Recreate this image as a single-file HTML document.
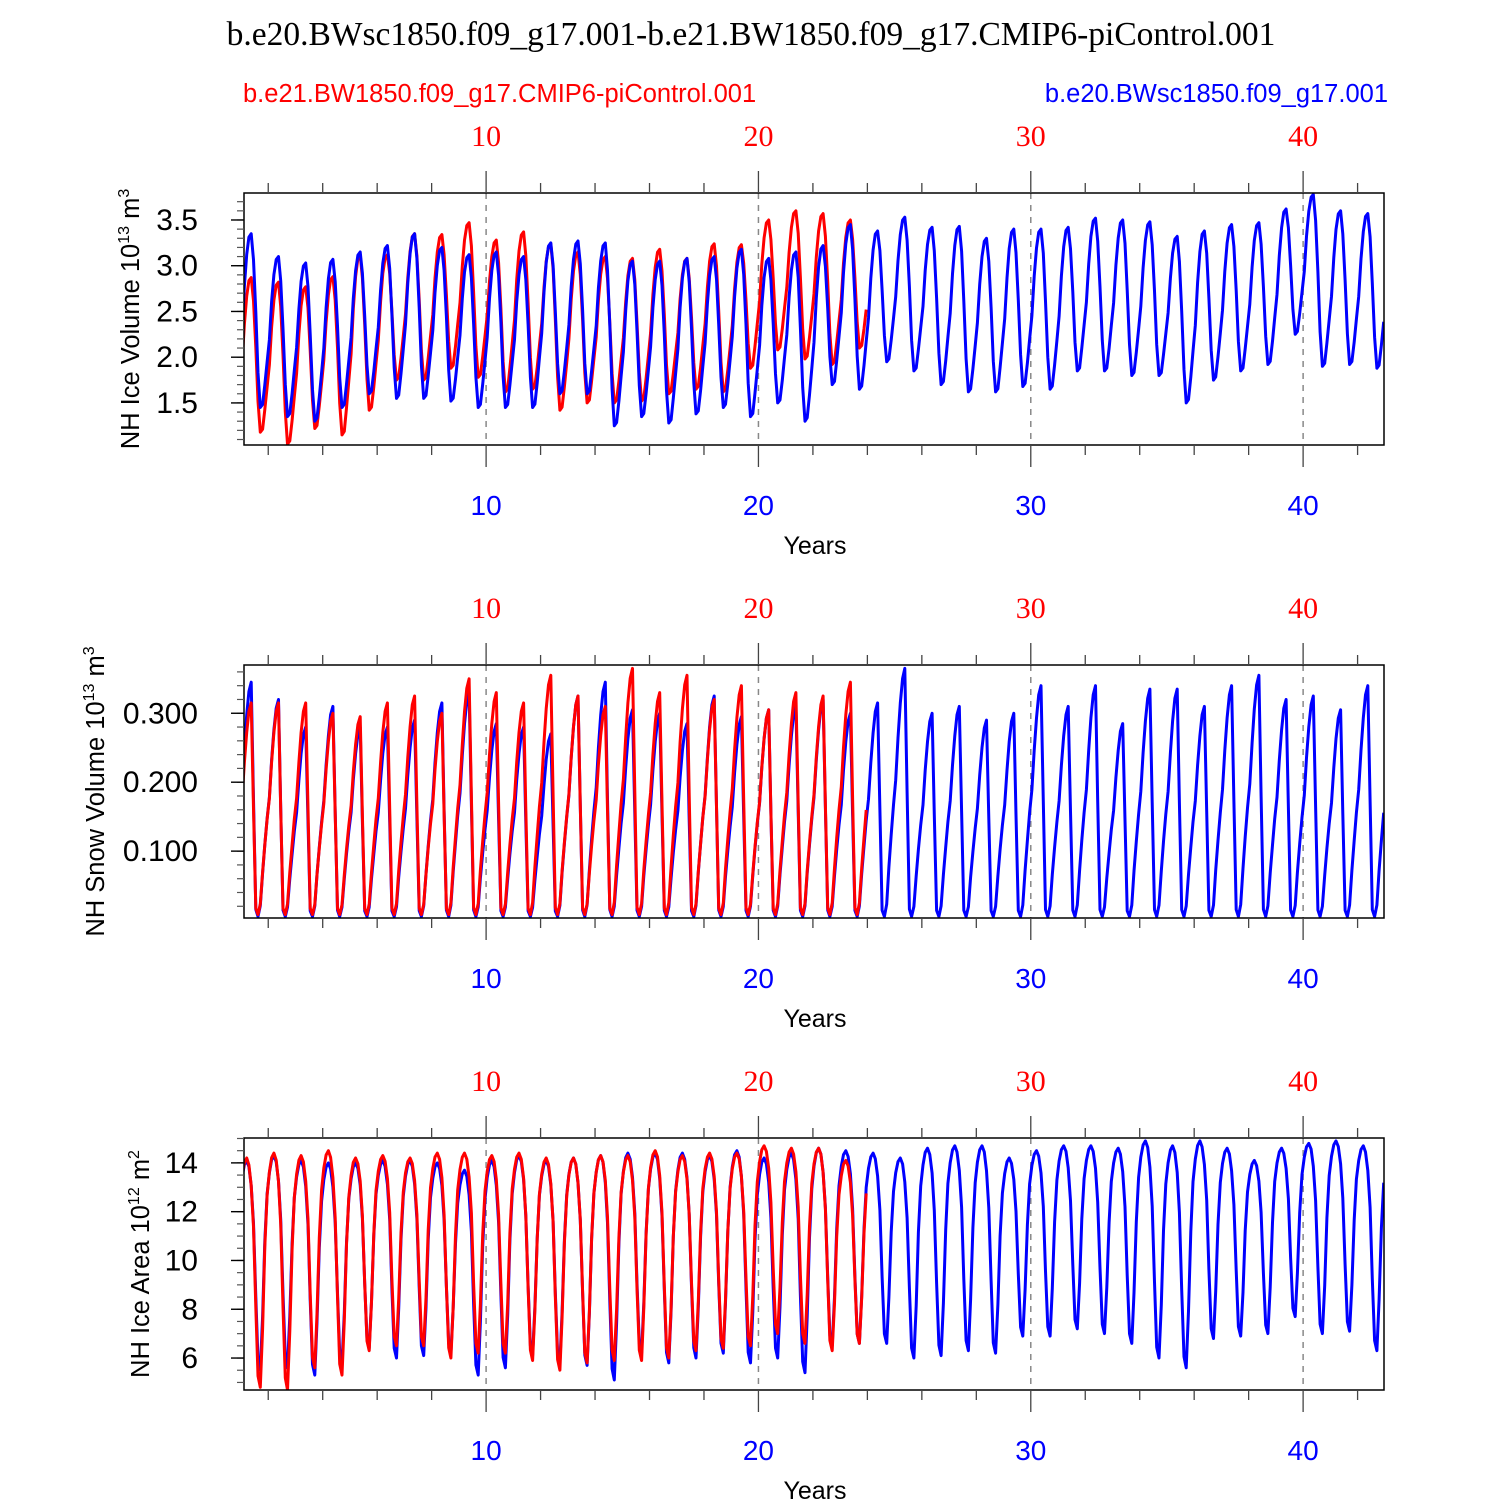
<!DOCTYPE html>
<html><head><meta charset="utf-8"><style>
body{margin:0;background:#fff}
svg{display:block}
</style></head><body>
<svg id="chart" width="1500" height="1500" viewBox="0 0 1500 1500" xmlns="http://www.w3.org/2000/svg">
<text x="751" y="45" text-anchor="middle" font-family="Liberation Serif, serif" font-size="33.5">b.e20.BWsc1850.f09_g17.001-b.e21.BW1850.f09_g17.CMIP6-piControl.001</text>
<text x="243" y="102" font-family="Liberation Sans, sans-serif" font-size="25.5" fill="#ff0000">b.e21.BW1850.f09_g17.CMIP6-piControl.001</text>
<text x="1388" y="102" text-anchor="end" font-family="Liberation Sans, sans-serif" font-size="25.5" fill="#0000ff">b.e20.BWsc1850.f09_g17.001</text>
</svg>
<script>
// ---- data (annual maxima / minima) ----
const xTicks = [10, 20, 30, 40];
const volBlueMax = [3.35,3.1,3.03,3.07,3.15,3.22,3.35,3.2,3.12,3.15,3.1,3.25,3.27,3.25,3.05,3.05,3.08,3.1,3.18,3.08,3.15,3.22,3.45,3.38,3.53,3.42,3.43,3.3,3.4,3.4,3.42,3.52,3.5,3.48,3.32,3.38,3.45,3.47,3.62,3.78,3.6,3.57];
const volBlueMin = [1.45,1.35,1.3,1.45,1.6,1.55,1.55,1.52,1.45,1.45,1.45,1.6,1.6,1.25,1.35,1.28,1.38,1.45,1.35,1.5,1.3,1.7,1.65,1.95,1.85,1.7,1.62,1.62,1.68,1.65,1.85,1.85,1.8,1.8,1.5,1.75,1.85,1.92,2.25,1.9,1.92,1.88];
const volRedMax = [2.87,2.82,2.77,2.88,3.12,3.12,3.35,3.34,3.47,3.28,3.37,3.24,3.15,3.1,3.08,3.18,3.08,3.24,3.23,3.5,3.6,3.57,3.5];
const volRedMin = [1.18,1.05,1.22,1.15,1.42,1.75,1.75,1.88,1.78,1.62,1.65,1.42,1.5,1.5,1.52,1.6,1.65,1.62,1.88,2.08,1.98,1.92,2.1];
const volTicks = [1.5,2.0,2.5,3.0,3.5];
const volTickLabels = ["1.5","2.0","2.5","3.0","3.5"];

const snowBlueMax = [0.345,0.32,0.28,0.31,0.28,0.28,0.29,0.315,0.33,0.285,0.28,0.27,0.325,0.345,0.305,0.30,0.285,0.325,0.295,0.305,0.31,0.32,0.30,0.315,0.365,0.30,0.31,0.29,0.30,0.34,0.31,0.34,0.285,0.335,0.335,0.31,0.34,0.355,0.32,0.325,0.305,0.34];
const snowBlueMin = [0.005,0.005,0.005,0.005,0.005,0.005,0.005,0.005,0.005,0.005,0.005,0.005,0.005,0.005,0.005,0.005,0.005,0.005,0.005,0.005,0.005,0.005,0.005,0.005,0.005,0.005,0.005,0.005,0.005,0.005,0.005,0.005,0.005,0.005,0.005,0.005,0.005,0.005,0.005,0.005,0.005,0.005];
const snowRedMax = [0.315,0.315,0.315,0.30,0.295,0.315,0.325,0.30,0.35,0.33,0.315,0.355,0.325,0.31,0.365,0.33,0.355,0.32,0.34,0.305,0.33,0.325,0.345];
const snowRedMin = [0.008,0.008,0.008,0.008,0.008,0.008,0.008,0.008,0.008,0.008,0.008,0.008,0.008,0.008,0.008,0.008,0.008,0.008,0.008,0.008,0.008,0.008,0.008];
const snowTicks = [0.1,0.2,0.3];
const snowTickLabels = ["0.100","0.200","0.300"];

const areaBlueMax = [14.1,14.3,14.1,14.0,14.0,14.1,14.1,14.0,13.7,14.1,14.3,14.1,14.2,14.3,14.4,14.4,14.4,14.3,14.5,14.2,14.4,14.6,14.5,14.4,14.2,14.6,14.7,14.7,14.2,14.5,14.7,14.7,14.6,14.9,14.7,14.9,14.6,14.1,14.6,14.8,14.9,14.7];
const areaBlueMin = [5.5,5.6,5.3,5.8,6.4,6.0,6.1,6.2,5.3,5.6,6.1,5.8,5.7,5.1,6.2,5.8,6.0,6.2,5.8,6.0,5.4,6.5,6.6,6.6,6.0,6.1,6.3,6.2,6.9,6.9,7.2,7.0,6.6,6.0,5.6,6.8,6.9,7.0,7.7,7.0,7.1,6.3];
const areaRedMax = [14.2,14.4,14.3,14.5,14.2,14.3,14.2,14.4,14.4,14.3,14.4,14.2,14.2,14.3,14.3,14.5,14.3,14.4,14.4,14.7,14.6,14.6,14.1];
const areaRedMin = [4.8,4.7,5.6,5.3,6.3,6.5,6.5,6.0,6.2,6.2,5.9,5.5,5.8,5.9,5.9,6.0,6.3,6.4,6.5,7.0,6.6,6.3,6.6];
const areaTicks = [6,8,10,12,14];
const areaTickLabels = ["6","8","10","12","14"];

// seasonal shapes (fraction between min and max)
const volShape = [0.45,0.7,0.88,0.98,1.0,0.85,0.55,0.2,0.0,0.02,0.15,0.3];
const snowShape = [0.55,0.72,0.86,0.96,1.0,0.5,0.03,0.0,0.05,0.2,0.33,0.45];
const areaShape = [0.92,0.98,1.0,0.97,0.88,0.7,0.35,0.05,0.0,0.25,0.6,0.82];

const NS = "http://www.w3.org/2000/svg";
const svg = document.getElementById('chart');
function mk(tag, attrs, parent){const e=document.createElementNS(NS,tag);for(const k in attrs)e.setAttribute(k,attrs[k]);(parent||svg).appendChild(e);return e;}

const X0=244, X1=1384, T0=1.11, T1=42.97;
const xs = t => X0 + (t-T0)/(T1-T0)*(X1-X0);

function monthly(maxA, minA, shape, peakM, minM){
  const pts=[];
  for(let y=0;y<maxA.length;y++){
    for(let m=0;m<12;m++){
      let lo, hi;
      if(m<peakM){ lo = y>0?minA[y-1]:minA[y]; hi=maxA[y]; }
      else if(m<=minM){ lo=minA[y]; hi=maxA[y]; }
      else { lo=minA[y]; hi = y+1<maxA.length?maxA[y+1]:maxA[y]; }
      pts.push([y+1+(m+0.5)/12, lo+shape[m]*(hi-lo)]);
    }
  }
  return pts;
}

function panel(idx, top, bot, ymin, ymax, ticks, tickLabels, minorStep, title, sup, unit, series){
  const ys = v => bot - (v-ymin)/(ymax-ymin)*(bot-top);
  const g = mk('g',{});
  
  
  const cid='clip'+idx;
  const cp=mk('clipPath',{id:cid},g); mk('rect',{x:X0,y:top,width:X1-X0,height:bot-top},cp);
  xTicks.forEach(t=>{
    const l=mk('line',{x1:xs(t),x2:xs(t),y1:top,y2:bot,stroke:'#888','stroke-width':1.5,'stroke-dasharray':'6 6'},g);
    
    
  });
  series.forEach(s=>{
    const d=s.pts.map((p,i)=>(i?'L':'M')+xs(p[0]).toFixed(1)+' '+ys(p[1]).toFixed(1)).join(' ');
    const p=mk('path',{d:d,fill:'none',stroke:s.color,'stroke-width':3,'stroke-linejoin':'round','clip-path':'url(#'+cid+')'},g);
    
    
  });
  const box=mk('rect',{x:X0,y:top,width:X1-X0,height:bot-top,fill:'none',stroke:'#000','stroke-width':1.5},g);
  
  
  for(let t=2;t<=42;t+=2){
    const x=xs(t), L=(t%10===0)?22:10;
    mk('line',{x1:x,x2:x,y1:bot,y2:bot+L,stroke:'#444','stroke-width':1.3},g);
    mk('line',{x1:x,x2:x,y1:top,y2:top-L,stroke:'#444','stroke-width':1.3},g);
  }
  xTicks.forEach(t=>{
    const a=mk('text',{x:xs(t),y:top-47,'text-anchor':'middle','font-family':'Liberation Serif, serif','font-size':30,fill:'#ff0000'},g);
    a.textContent=t;
    
    
    const b=mk('text',{x:xs(t),y:bot+70,'text-anchor':'middle','font-family':'Liberation Sans, sans-serif','font-size':28,fill:'#0000ff'},g);
    b.textContent=t;
    
    
  });
  const xt=mk('text',{x:815,y:bot+109,'text-anchor':'middle','font-family':'Liberation Sans, sans-serif','font-size':25},g);
  xt.textContent='Years';
  
  
  for(let v=Math.ceil(ymin/minorStep)*minorStep; v<=ymax+1e-9; v+=minorStep){
    mk('line',{x1:X0,x2:X0-7,y1:ys(v),y2:ys(v),stroke:'#555','stroke-width':1.2},g);
  }
  ticks.forEach((v,i)=>{
    mk('line',{x1:X0,x2:X0-13,y1:ys(v),y2:ys(v),stroke:'#000','stroke-width':1.4},g);
    const tl=mk('text',{x:X0-46,y:ys(v)+10,'text-anchor':'end','font-family':'Liberation Sans, sans-serif','font-size':30},g);
    tl.textContent=tickLabels[i];
    
    
  });
  const ty=(top+bot)/2;
  const yt=mk('text',{transform:'translate('+title.x+','+ty+') rotate(-90)','text-anchor':'middle','font-family':'Liberation Sans, sans-serif','font-size':25.5},g);
  
  
  const t1=document.createElementNS(NS,'tspan'); t1.textContent=title.text+' 10'; yt.appendChild(t1);
  const t2=document.createElementNS(NS,'tspan'); t2.setAttribute('dy','-10'); t2.setAttribute('font-size','16'); t2.textContent=sup; yt.appendChild(t2);
  const t3=document.createElementNS(NS,'tspan'); t3.setAttribute('dy','10'); t3.textContent=' m'; yt.appendChild(t3);
  const t4=document.createElementNS(NS,'tspan'); t4.setAttribute('dy','-10'); t4.setAttribute('font-size','16'); t4.textContent=unit; yt.appendChild(t4);
}

panel(1,193,445,1.04,3.795,volTicks,volTickLabels,0.1,{x:139,text:'NH Ice Volume'},'13','3',[
  {name:'ice-volume-red-series',color:'#ff0000',pts:monthly(volRedMax,volRedMin,volShape,4,8)},
  {name:'ice-volume-blue-series',color:'#0000ff',pts:monthly(volBlueMax,volBlueMin,volShape,4,8)}
]);
panel(2,665,918,0.003,0.37,snowTicks,snowTickLabels,0.02,{x:104,text:'NH Snow Volume'},'13','3',[
  {name:'snow-volume-blue-series',color:'#0000ff',pts:monthly(snowBlueMax,snowBlueMin,snowShape,4,7)},
  {name:'snow-volume-red-series',color:'#ff0000',pts:monthly(snowRedMax,snowRedMin,snowShape,4,7)}
]);
panel(3,1138,1390,4.69,15.02,areaTicks,areaTickLabels,0.5,{x:149,text:'NH Ice Area'},'12','2',[
  {name:'ice-area-blue-series',color:'#0000ff',pts:monthly(areaBlueMax,areaBlueMin,areaShape,2,8)},
  {name:'ice-area-red-series',color:'#ff0000',pts:monthly(areaRedMax,areaRedMin,areaShape,2,8)}
]);
</script>
</body></html>
